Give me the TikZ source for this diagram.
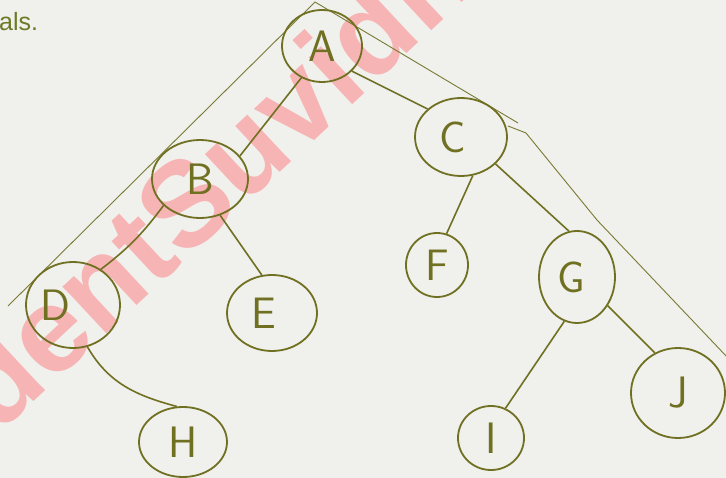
\documentclass[tikz,border=0pt]{standalone}
\usepackage{fontspec}
\newfontfamily\wmfont{Liberation Sans}
\usetikzlibrary{shapes.geometric}
\definecolor{paper}{RGB}{240,240,236}
\definecolor{ink}{RGB}{112,112,34}
\definecolor{thinink}{RGB}{120,122,50}
\definecolor{wmpink}{RGB}{247,180,180}
\definecolor{txtgreen}{RGB}{108,122,38}
\tikzset{
  tnode/.style={ellipse, draw=ink, line width=1.8pt, inner sep=0pt, text=ink,
    font=\sffamily\fontsize{44}{44}\selectfont},
  edge/.style={draw=ink, line width=1.6pt},
  guide/.style={draw=thinink, line width=0.9pt},
}
\begin{document}
\begin{tikzpicture}[x=1pt,y=-1pt]
\useasboundingbox (0,0) rectangle (726,478);
\clip (0,0) rectangle (726,478);
\fill[paper] (0,0) rectangle (726,478);
% watermark
\node[rotate=43, text=wmpink, inner sep=0pt, font=\wmfont\bfseries\fontsize{121}{121}\selectfont] (wm) at (162,223) {StudentSuvidha};
% top-left text fragment
\node[anchor=base west, inner sep=0pt, text=txtgreen, font=\wmfont\fontsize{25}{25}\selectfont] (als) at (-1,31) {als.};
% guide lines
\coordinate (t0) at (315,2);
\coordinate (l1) at (8,306);
\coordinate (r1) at (518,123);
\coordinate (r2) at (508,126);
\coordinate (r3) at (526,133);
\coordinate (r4) at (597,220);
\coordinate (r5) at (728,358);
\draw[guide] (t0) -- (l1);
\draw[guide] (t0) -- (r1);
\draw[guide] (r2) -- (r3) -- (r4) -- (r5);
% nodes
\node[tnode, minimum width=80pt, minimum height=72pt] (A) at (322,46) {A};
\node[tnode, minimum width=96pt, minimum height=78pt] (B) at (200,179) {B};
\node[tnode, minimum width=92pt, minimum height=78pt] (C) at (461,137) {\kern-8pt C\kern8pt};
\node[tnode, minimum width=94pt, minimum height=86pt] (D) at (73,305) {\kern-18pt D\kern18pt};
\node[tnode, minimum width=90pt, minimum height=76pt] (E) at (272,313) {\kern-8pt E\kern8pt};
\node[tnode, minimum width=62pt, minimum height=64pt] (F) at (437,265) {F};
\node[tnode, minimum width=76pt, minimum height=92pt] (G) at (577,277) {\kern-6pt G\kern6pt};
\node[tnode, minimum width=88pt, minimum height=70pt] (H) at (183,442) {H};
\node[tnode, minimum width=66pt, minimum height=64pt] (I) at (491,438) {I};
\node[tnode, minimum width=94pt, minimum height=90pt] (J) at (678,393) {J};
% edges
\draw[edge] (A.237) -- (B.30);
\draw[edge] (A.320) -- (C.140);
\draw[edge] (B.216) to[bend left=8] (D.52);
\draw[edge] (B.299) -- (E.105);
\draw[edge] (C.287) -- (F.73);
\draw[edge] (C.322) -- (G.100);
\draw[edge] (D.289) to[out=-60,in=165] (H.100);
\draw[edge] (G.254) -- (I.64);
\draw[edge] (G.317) -- (J.120);
\end{tikzpicture}
\end{document}
